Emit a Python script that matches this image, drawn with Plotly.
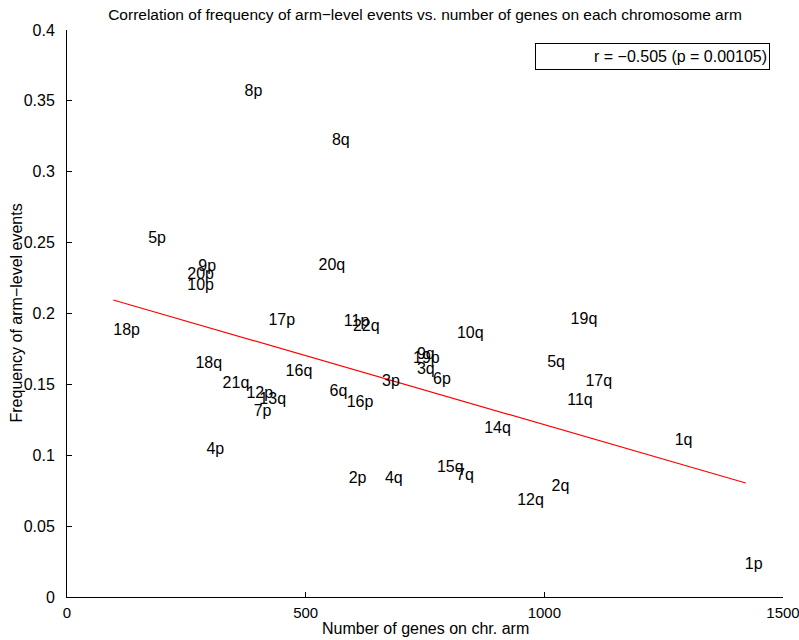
import plotly.graph_objects as go

arms = ["1p", "1q", "2p", "2q", "3p", "3q", "4p", "4q", "5p", "5q",
        "6p", "6q", "7p", "7q", "8p", "8q", "9p", "9q", "10p", "10q",
        "11p", "11q", "12p", "12q", "13q", "14q", "15q", "16p", "16q",
        "17p", "17q", "18p", "18q", "19p", "19q", "20p", "20q", "21q", "22q"]
n_genes = [1420, 1273, 590, 1015, 660, 733, 292, 666, 170, 1006,
           767, 550, 391, 815, 372, 555, 275, 733, 252, 817,
           580, 1048, 376, 943, 403, 874, 775, 586, 458,
           422, 1086, 97, 269, 725, 1055, 252, 527, 326, 599]
freq = [0.0226, 0.1100, 0.0832, 0.0776, 0.1517, 0.1600, 0.1037, 0.0832, 0.2526, 0.1650,
        0.1531, 0.1446, 0.1305, 0.0854, 0.3560, 0.3217, 0.2328, 0.1707, 0.2194, 0.1855,
        0.1940, 0.1383, 0.1432, 0.0677, 0.1390, 0.1185, 0.0910, 0.1369, 0.1587,
        0.1947, 0.1517, 0.1877, 0.1644, 0.1680, 0.1954, 0.2272, 0.2335, 0.1503, 0.1905]

# regression line (from min to max gene count)
fit_x = [97, 1422]
fit_y = [0.2095, 0.0804]

x_ticks = [0, 500, 1000, 1500]
y_ticks = [0, 0.05, 0.1, 0.15, 0.2, 0.25, 0.3, 0.35, 0.4]
y_tick_text = ["0", "0.05", "0.1", "0.15", "0.2", "0.25", "0.3", "0.35", "0.4"]

FONT = "Liberation Sans, Arial, Helvetica, sans-serif"
FS = 16

fig = go.Figure()
fig.add_trace(go.Scatter(x=fit_x, y=fit_y, mode="lines",
                         line=dict(color="#ff0000", width=1.2),
                         showlegend=False, hoverinfo="skip"))
fig.add_trace(go.Scatter(x=n_genes, y=freq, mode="text", text=arms,
                         textposition="middle right",
                         textfont=dict(family=FONT, size=FS, color="black"),
                         showlegend=False))

L, R, T, B = 67, 783, 30, 597
PW, PH = R - L, B - T

fig.add_annotation(xref="paper", yref="paper", x=(770 - L) / PW, y=(B - 43) / PH,
                   xanchor="right", yanchor="top",
                   text="r = −0.505 (p = 0.00105)", showarrow=False,
                   align="right", width=229, height=21,
                   bordercolor="black", borderwidth=1, borderpad=2,
                   bgcolor="white",
                   font=dict(family=FONT, size=FS, color="black"))
# axis titles
fig.add_annotation(xref="paper", yref="paper", x=0.5, y=-(628 - B) / PH,
                   xanchor="center", yanchor="middle", showarrow=False,
                   text="Number of genes on chr. arm",
                   font=dict(family=FONT, size=FS, color="black"))
fig.add_annotation(xref="paper", yref="paper", x=-(L - 16) / PW, y=0.5,
                   xanchor="center", yanchor="middle", showarrow=False, textangle=-90,
                   text="Frequency of arm−level events",
                   font=dict(family=FONT, size=FS, color="black"))

fig.update_layout(
    width=799, height=640,
    margin=dict(l=L, r=799 - R, t=T, b=640 - B),
    paper_bgcolor="white", plot_bgcolor="white",
    title=dict(text="Correlation of frequency of arm−level events vs. number of genes on each chromosome arm",
               x=(L + R) / 2 / 799, xanchor="center", y=1 - 15 / 640, yanchor="middle",
               font=dict(family=FONT, size=FS - 0.5, color="black")),
    font=dict(family=FONT, size=FS, color="black"),
)
fig.update_xaxes(range=[0, 1500], tickvals=x_ticks, ticktext=[str(v) for v in x_ticks],
                 ticks="inside", ticklen=5, tickcolor="black",
                 showline=True, linecolor="black", linewidth=1, mirror=False,
                 showgrid=False, zeroline=False, automargin=False,
                 ticklabeloverflow="allow", ticklabelstandoff=2,
                 tickfont=dict(family=FONT, size=15))
fig.update_yaxes(range=[0, 0.4], tickvals=y_ticks, ticktext=y_tick_text,
                 ticks="inside", ticklen=5, tickcolor="black",
                 showline=True, linecolor="black", linewidth=1, mirror=False,
                 showgrid=False, zeroline=False, automargin=False,
                 ticklabeloverflow="allow", ticklabelstandoff=8,
                 tickfont=dict(family=FONT, size=FS))

fig.write_html("out.html")
